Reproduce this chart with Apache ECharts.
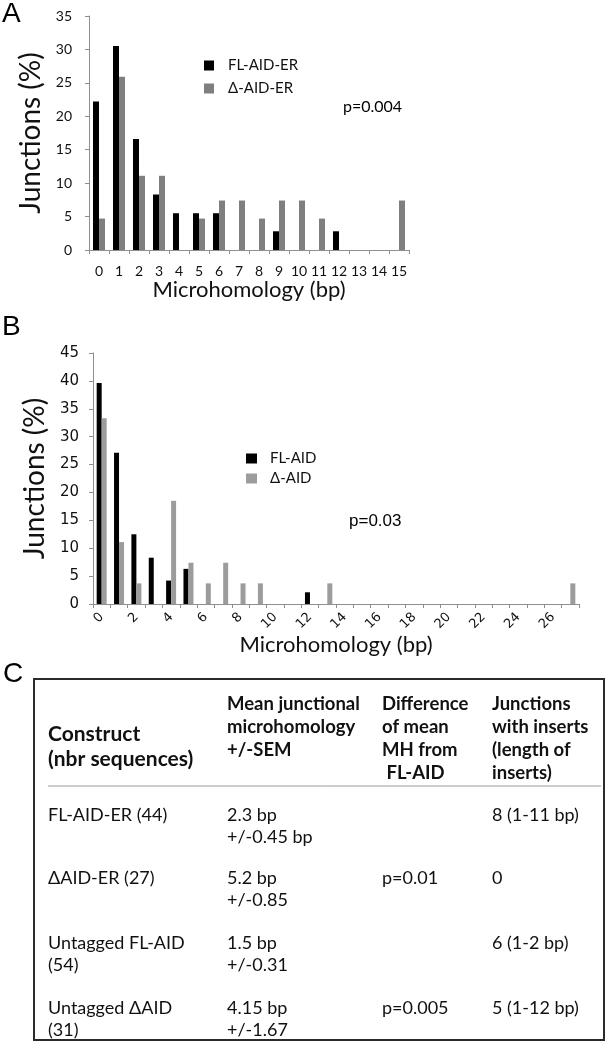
<!DOCTYPE html>
<html>
<head>
<meta charset="utf-8">
<script src="https://cdn.jsdelivr.net/npm/echarts@6/dist/echarts.min.js"></script>
<style>
html,body{margin:0;padding:0;background:#fff;}
#chart{width:608px;height:1050px;}
</style>
</head>
<body>
<div id="chart"></div>
<script>
// ---- Panel A data ----
const catA = ['0','1','2','3','4','5','6','7','8','9','10','11','12','13','14','15'];
const flAidEr = [22.2,30.5,16.6,8.3,5.5,5.5,5.5,0,0,2.8,0,0,2.8,0,0,0];
const dAidEr  = [4.7,25.9,11.1,11.1,0,4.7,7.4,7.4,4.7,7.4,7.4,4.7,0,0,0,7.4];
const seriesNamesA = ['FL-AID-ER','Δ-AID-ER'];
const pValueA = 'p=0.004';

// ---- Panel B data ----
const catB = ['0','1','2','3','4','5','6','7','8','9','10','11','12','13','14','15','16','17','18','19','20','21','22','23','24','25','26','27'];
const flAid = [39.6,27.1,12.5,8.3,4.2,6.3,0,0,0,0,0,0,2.1,0,0,0,0,0,0,0,0,0,0,0,0,0,0,0];
const dAid  = [33.3,11.1,3.7,0,18.5,7.4,3.7,7.4,3.7,3.7,0,0,0,3.7,0,0,0,0,0,0,0,0,0,0,0,0,0,3.7];
const seriesNamesB = ['FL-AID','Δ-AID'];
const pValueB = 'p=0.03';

const yTitle = 'Junctions (%)';
const xTitle = 'Microhomology (bp)';
const panelLabels = ['A','B','C'];

// ---- Panel C table ----
const tableHeader = [
  ['Construct','(nbr sequences)'],
  ['Mean junctional','microhomology','+/-SEM'],
  ['Difference','of mean','MH from',' FL-AID'],
  ['Junctions','with inserts','(length of','inserts)']
];
const tableRows = [
  [['FL-AID-ER (44)'], ['2.3 bp','+/-0.45 bp'], [], ['8 (1-11 bp)']],
  [['ΔAID-ER (27)'], ['5.2 bp','+/-0.85'], ['p=0.01'], ['0']],
  [['Untagged FL-AID','(54)'], ['1.5 bp','+/-0.31'], [], ['6 (1-2 bp)']],
  [['Untagged ΔAID','(31)'], ['4.15 bp','+/-1.67'], ['p=0.005'], ['5 (1-12 bp)']]
];

// ---- layout ----
const colX = [48, 227, 382, 492];
const headerStartY = [734, 704, 704, 704];
const headerLineH = [25, 23, 23, 23];
const headerFont = [21, 18.5, 18.5, 18.5];
const rowStartY = [815, 878, 943, 1008];
const lineH = 22;

const chart = echarts.init(document.getElementById('chart'), null, {renderer:'canvas'});

const calib = 'Lato, "Open Sans", sans-serif';
const axisGrey = '#8f8f8f';

const graphics = [];
graphics.push({type:'text', x:2, y:0, style:{text:panelLabels[0], font:'28px "Liberation Sans", Arial, sans-serif', fill:'#000'}});
graphics.push({type:'text', x:2, y:313, style:{text:panelLabels[1], font:'28px "Liberation Sans", Arial, sans-serif', fill:'#000'}});
graphics.push({type:'text', x:3, y:660, style:{text:panelLabels[2], font:'28px "Liberation Sans", Arial, sans-serif', fill:'#000'}});
graphics.push({type:'text', x:343, y:99, style:{text:pValueA, font:'16px ' + calib, fill:'#000'}});
graphics.push({type:'text', x:349, y:513, style:{text:pValueB, font:'17px "Liberation Sans", Arial, sans-serif', fill:'#000'}});
graphics.push({type:'rect', shape:{x:34, y:679, width:570, height:361}, style:{fill:'none', stroke:'#2b2b2b', lineWidth:2}});
graphics.push({type:'line', shape:{x1:48, y1:786, x2:601, y2:786}, style:{stroke:'#9a9a9a', lineWidth:1}});
tableHeader.forEach((lines, c) => {
  lines.forEach((t, i) => {
    graphics.push({type:'text', x:colX[c], y:headerStartY[c] + i*headerLineH[c],
      style:{text:t, font:'bold ' + headerFont[c] + 'px ' + calib, fill:'#111', textVerticalAlign:'middle'}});
  });
});
tableRows.forEach((row, r) => {
  row.forEach((lines, c) => {
    lines.forEach((t, i) => {
      graphics.push({type:'text', x:colX[c], y:rowStartY[r] + i*lineH,
        style:{text:t, font:'18px ' + calib, fill:'#111', textVerticalAlign:'middle'}});
    });
  });
});

const option = {
  backgroundColor:'#fff',
  animation:false,
  grid:[
    {left:89, top:16, width:320, height:234},
    {left:93, top:353, width:486, height:251}
  ],
  legend:[
    {data:seriesNamesA, orient:'vertical', left:199, top:53, itemWidth:10, itemHeight:10, itemGap:8,
     icon:'rect', textStyle:{fontFamily:'Lato', fontSize:15, color:'#111', padding:[0,0,0,9]}},
    {data:seriesNamesB, orient:'vertical', left:241, top:446, itemWidth:11, itemHeight:10, itemGap:5,
     icon:'rect', textStyle:{fontFamily:'Lato', fontSize:15, color:'#111', padding:[0,0,0,8]}}
  ],
  xAxis:[
    {type:'category', gridIndex:0, data:catA,
     axisLine:{lineStyle:{color:axisGrey, width:1}},
     axisTick:{show:true, length:4, lineStyle:{color:axisGrey}},
     axisLabel:{interval:0, color:'#111', fontFamily:'Lato', fontSize:14, margin:14},
     name:xTitle, nameLocation:'middle', nameGap:29,
     nameTextStyle:{fontFamily:'Lato', fontSize:22, color:'#111', verticalAlign:'top'}},
    {type:'category', gridIndex:1, data:catB,
     axisLine:{lineStyle:{color:axisGrey, width:1}},
     axisTick:{show:true, interval:0, length:4, lineStyle:{color:axisGrey}},
     axisLabel:{interval:1, rotate:45, color:'#111', fontFamily:'"DejaVu Sans", Verdana, sans-serif', fontSize:13, margin:11},
     name:xTitle, nameLocation:'middle', nameGap:26,
     nameTextStyle:{fontFamily:'Lato', fontSize:22, color:'#111', verticalAlign:'top'}}
  ],
  yAxis:[
    {type:'value', gridIndex:0, min:0, max:35, interval:5,
     splitLine:{show:false},
     axisLine:{show:true, lineStyle:{color:axisGrey, width:1}},
     axisTick:{show:true, length:4, lineStyle:{color:axisGrey}},
     axisLabel:{color:'#111', fontFamily:'Lato', fontSize:14, margin:17},
     name:yTitle, nameLocation:'middle', nameGap:44, nameRotate:90,
     nameTextStyle:{fontFamily:'Lato', fontSize:28, color:'#111', verticalAlign:'bottom'}},
    {type:'value', gridIndex:1, min:0, max:45, interval:5,
     splitLine:{show:false},
     axisLine:{show:true, lineStyle:{color:axisGrey, width:1}},
     axisTick:{show:true, length:4, lineStyle:{color:axisGrey}},
     axisLabel:{color:'#111', fontFamily:'"DejaVu Sans", Verdana, sans-serif', fontSize:15, margin:14},
     name:yTitle, nameLocation:'middle', nameGap:43, nameRotate:90,
     nameTextStyle:{fontFamily:'Lato', fontSize:28, color:'#111', verticalAlign:'bottom'}}
  ],
  series:[
    {name:seriesNamesA[0], type:'bar', xAxisIndex:0, yAxisIndex:0, data:flAidEr, barWidth:6, barGap:'0%', itemStyle:{color:'#000'}},
    {name:seriesNamesA[1], type:'bar', xAxisIndex:0, yAxisIndex:0, data:dAidEr, barWidth:6, barGap:'0%', itemStyle:{color:'#7f7f7f'}},
    {name:seriesNamesB[0], type:'bar', xAxisIndex:1, yAxisIndex:1, data:flAid, barWidth:5, barGap:'0%', itemStyle:{color:'#000'}},
    {name:seriesNamesB[1], type:'bar', xAxisIndex:1, yAxisIndex:1, data:dAid, barWidth:5, barGap:'0%', itemStyle:{color:'#9c9c9c'}}
  ],
  graphic:graphics
};
chart.setOption(option);
</script>
</body>
</html>
